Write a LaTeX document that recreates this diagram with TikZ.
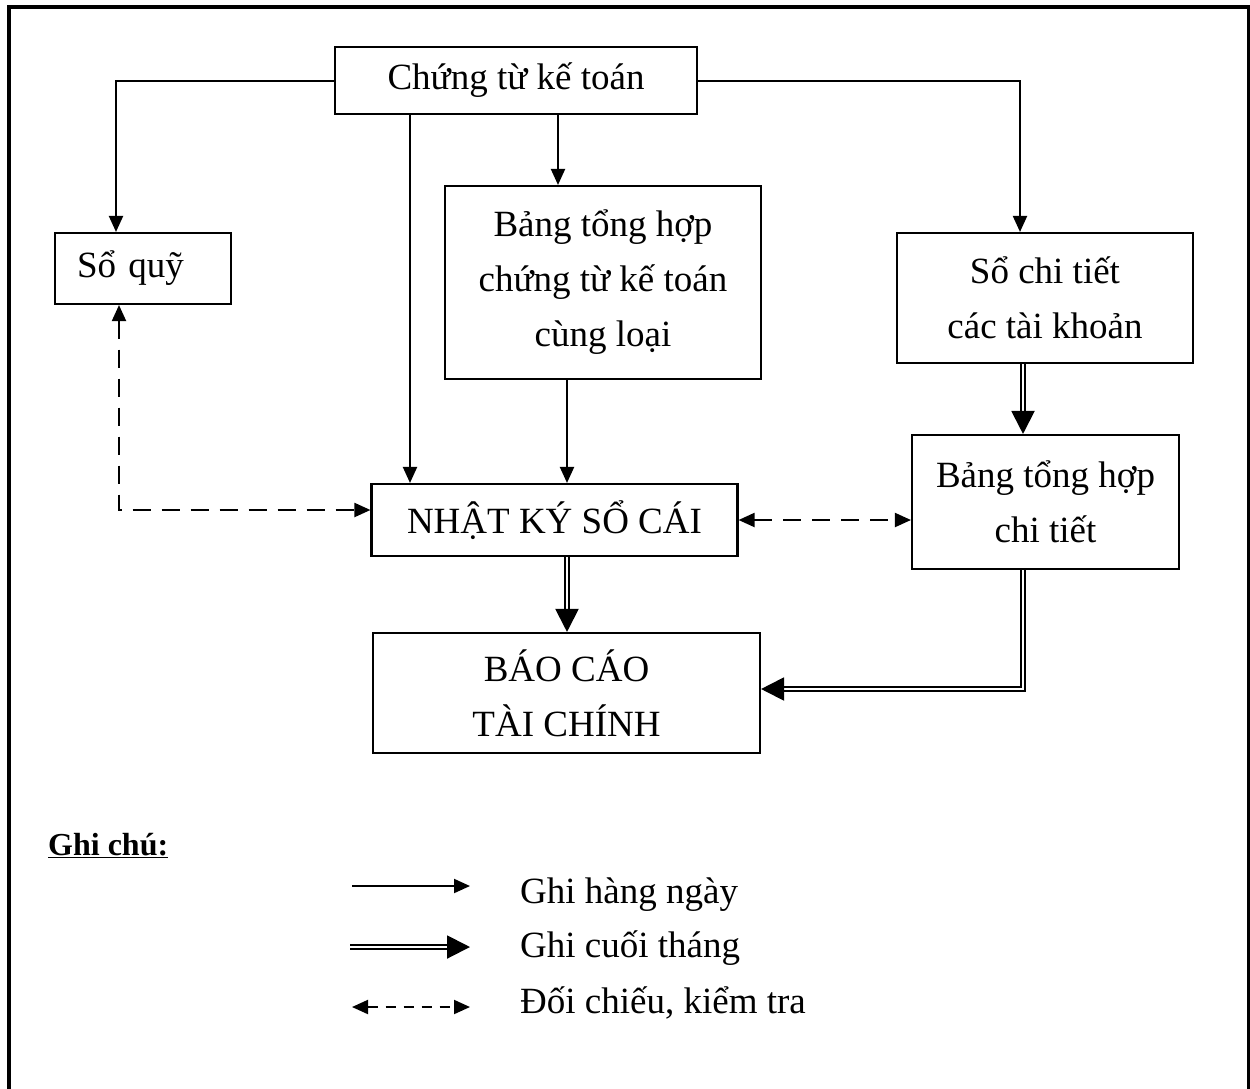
\documentclass[tikz,border=0pt]{standalone}
\usepackage{fontspec}
\setmainfont{Liberation Serif}
\usetikzlibrary{arrows.meta}
\begin{document}
\begin{tikzpicture}[x=1pt,y=-1pt,
  box/.style={draw, line width=2.1pt, inner sep=0pt, align=center, font=\fontsize{37}{55}\selectfont},
  arr/.style={line width=2pt, -{Triangle[length=16pt,width=14pt]}},
  dbl/.style={double, double distance=2.4pt, line width=2pt, -{Triangle[length=23pt,width=23pt]}},
  dsh/.style={line width=2pt, dash pattern=on 18pt off 11pt, {Triangle[length=16pt,width=14pt]}-{Triangle[length=16pt,width=14pt]}},
  lbl/.style={anchor=base west, inner sep=0pt, font=\fontsize{37}{55}\selectfont}]
\useasboundingbox (0,0) rectangle (1250,1088);
\draw[line width=3.2pt] (9,1095) -- (9,7) -- (1248.5,7) -- (1248.5,1095);

\node[box, minimum width=362pt, minimum height=67pt] (ct) at (516,80.5) {Chứng từ kế toán};
\node[box, minimum height=71pt, text width=132pt, inner xsep=22pt, align=left] (sq) at (143,268.5) {Sổ quỹ};
\node[box, minimum width=316pt, minimum height=193pt] (bth) at (603,282.5) {Bảng tổng hợp\\chứng từ kế toán\\cùng loại};
\node[box, minimum width=296pt, minimum height=130pt] (sct) at (1045,298) {Sổ chi tiết\\các tài khoản};
\node[box, minimum width=267pt, minimum height=134pt] (bthct) at (1045.5,502) {Bảng tổng hợp\\chi tiết};
\node[box, minimum width=366pt, minimum height=72pt] (nk) at (554.5,520) {NHẬT KÝ SỔ CÁI};
\node[box, minimum width=387pt, minimum height=120pt] (bc) at (566.5,693) {BÁO CÁO\\TÀI CHÍNH};

\coordinate (xsq) at (116,0);
\coordinate (xsct) at (1020,0);
\coordinate (xa) at (410,0);
\coordinate (xb) at (558,0);
\coordinate (xc) at (567,0);
\coordinate (xd) at (1023,0);
\coordinate (xq) at (119,0);
\coordinate (yq) at (0,510);
\coordinate (yr) at (0,689);

\draw[arr] (ct.west) -| (sq.north -| xsq);
\draw[arr] (ct.east) -| (sct.north -| xsct);
\draw[arr] (ct.south -| xa) -- (nk.north -| xa);
\draw[arr] (ct.south -| xb) -- (bth.north -| xb);
\draw[arr] (bth.south -| xc) -- (nk.north -| xc);
\draw[dbl] (nk.south -| xc) -- (bc.north -| xc);
\draw[dbl] (sct.south -| xd) -- (bthct.north -| xd);
\draw[dbl] (bthct.south -| xd) |- (bc.east |- yr);
\draw[dsh] (sq.south -| xq) -- (xq |- yq) -- (nk.west |- yq);
\draw[dsh] (nk.east) -- (nk.east -| bthct.west);

\node[anchor=base west, inner sep=0pt, font=\bfseries\fontsize{32}{40}\selectfont] (gc) at (48,855) {\underline{Ghi chú:}};

\coordinate (l1a) at (352,886); \coordinate (l1b) at (470,886);
\coordinate (l2a) at (350,947); \coordinate (l2b) at (470,947);
\coordinate (l3a) at (352,1007); \coordinate (l3b) at (470,1007);
\draw[arr] (l1a) -- (l1b);
\draw[dbl] (l2a) -- (l2b);
\draw[dsh, dash pattern=on 10pt off 8pt] (l3a) -- (l3b);

\node[lbl] (t1) at (520,903) {Ghi hàng ngày};
\node[lbl] (t2) at (520,957) {Ghi cuối tháng};
\node[lbl] (t3) at (520,1013) {Đối chiếu, kiểm tra};
\end{tikzpicture}
\end{document}
